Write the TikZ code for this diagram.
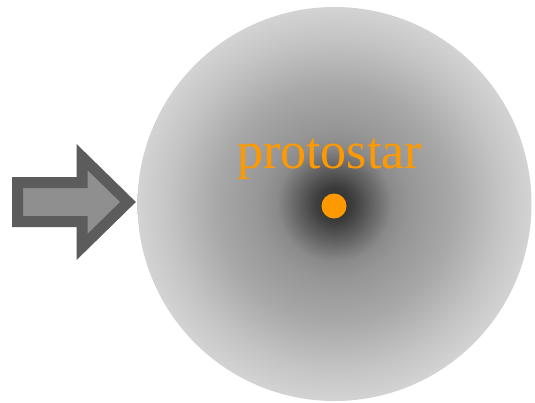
\documentclass[tikz,border=0pt]{standalone}
\usepackage{fontspec}
\setmainfont{Liberation Serif}
\definecolor{orng}{HTML}{FF9900}
\definecolor{arrfill}{HTML}{8F8F8F}
\definecolor{arrline}{HTML}{5C5C5C}
\definecolor{g0}{HTML}{2E2E2E}
\definecolor{g1}{HTML}{3C3C3C}
\definecolor{g2}{HTML}{666666}
\definecolor{g3}{HTML}{8A8A8A}
\definecolor{g4}{HTML}{969696}
\definecolor{g5}{HTML}{A8A8A8}
\definecolor{g6}{HTML}{C4C4C4}
\definecolor{g7}{HTML}{D3D3D3}
\pgfdeclareradialshading{cloudshade}{\pgfpoint{0bp}{0bp}}{%
  color(0bp)=(g0); color(2.2bp)=(g1); color(5bp)=(g2); color(7.3bp)=(g3);
  color(9.5bp)=(g4); color(15bp)=(g5); color(21bp)=(g6); color(25bp)=(g7); color(50bp)=(g7)}
\tikzset{
  cloud/.style={circle, inner sep=0pt, minimum size=394pt, shading=cloudshade},
  inarrow/.style={draw=arrline, fill=arrfill, line width=11pt, miter limit=10, line join=miter},
  starlabel/.style={text=orng, font=\fontsize{52}{52}\selectfont, inner sep=0pt, anchor=base},
  stardot/.style={circle, fill=orng, inner sep=0pt, minimum size=25pt}
}
\begin{document}
\begin{tikzpicture}[x=1pt,y=-1pt]
\useasboundingbox (0,0) rectangle (535,402);
\node[cloud] (cloud) at (334.5,204) {};
\path[inarrow] (17.5,182.5) -- (82,182.5) -- (82,157) -- (128,202)
  -- (82,247) -- (82,221.5) -- (17.5,221.5) -- cycle;
\coordinate (tip) at (128,202);
\node[starlabel] (label) at (329.5,168) {protostar};
\node[stardot] (star) at (334,206) {};
\end{tikzpicture}
\end{document}
